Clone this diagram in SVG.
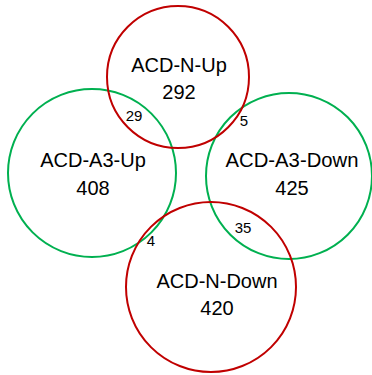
<svg xmlns="http://www.w3.org/2000/svg" width="372" height="375" viewBox="0 0 372 375">
<style>
.red{fill:none;stroke:#C00000;stroke-width:2}
.green{fill:none;stroke:#00B050;stroke-width:2}
.lbl{font-family:"Liberation Sans",Arial,sans-serif;font-size:20px;fill:#000;text-anchor:middle}
.num{font-family:"Liberation Sans",Arial,sans-serif;font-size:15px;fill:#000;text-anchor:middle}
</style>
<rect width="372" height="375" fill="#fff"/>
<g id="acd-a3-up">
<circle class="green" cx="92" cy="173" r="84"/>
<text class="lbl" x="93" y="167">ACD-A3-Up</text>
<text class="lbl" x="93" y="195">408</text>
</g>
<g id="acd-a3-down">
<circle class="green" cx="289" cy="176" r="83"/>
<text class="lbl" x="292" y="167" textLength="133" lengthAdjust="spacingAndGlyphs">ACD-A3-Down</text>
<text class="lbl" x="292" y="195">425</text>
</g>
<g id="acd-n-up">
<circle class="red" cx="178" cy="77" r="71"/>
<text class="lbl" x="179" y="72">ACD-N-Up</text>
<text class="lbl" x="179" y="99">292</text>
</g>
<g id="acd-n-down">
<circle class="red" cx="211" cy="287" r="85"/>
<text class="lbl" x="217" y="288">ACD-N-Down</text>
<text class="lbl" x="217" y="315">420</text>
</g>
<g id="overlaps">
<text class="num" x="134" y="121">29</text>
<text class="num" x="244" y="126">5</text>
<text class="num" x="151" y="246">4</text>
<text class="num" x="243" y="233">35</text>
</g>
</svg>
